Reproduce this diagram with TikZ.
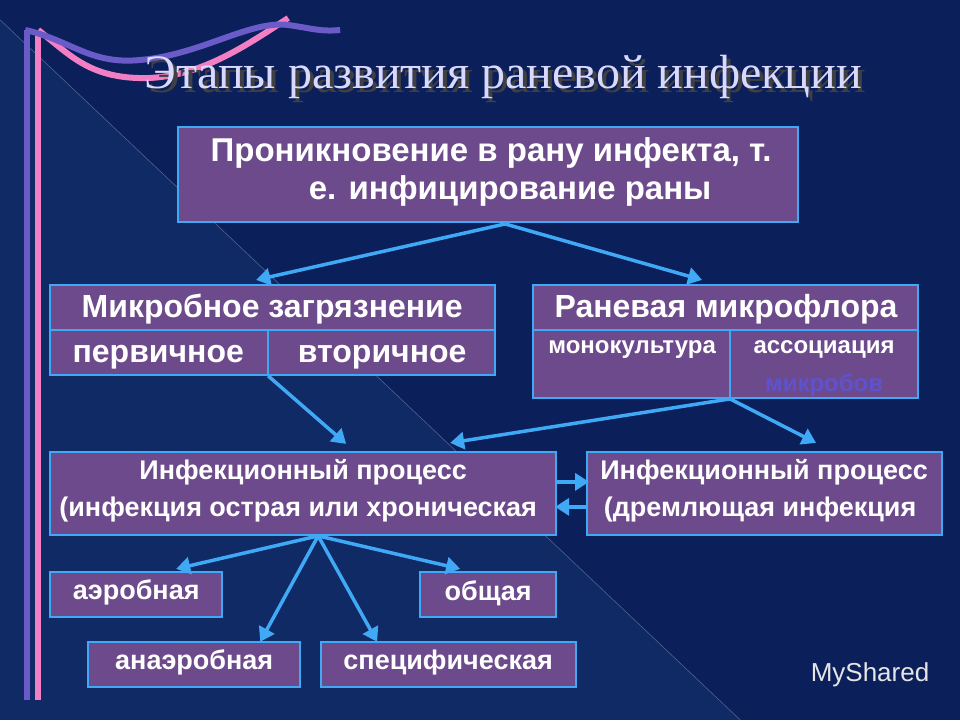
\documentclass[tikz,border=0pt]{standalone}
\usepackage{fontspec}
\setmainfont{Liberation Serif}
\setsansfont{Liberation Sans}
\usetikzlibrary{arrows.meta}
\definecolor{bg}{HTML}{0B1F5A}
\definecolor{bgl}{HTML}{102A66}
\definecolor{boxf}{HTML}{6C4A8C}
\definecolor{edge}{HTML}{3FA9F5}
\definecolor{pinkr}{HTML}{F27FC3}
\definecolor{purr}{HTML}{6A5BC8}
\begin{document}
\begin{tikzpicture}[x=1pt,y=-1pt,
  bx/.style={draw=edge,line width=2.2pt,fill=boxf},
  tx/.style={text=white,font=\sffamily\bfseries},
  arr/.style={draw=edge,line width=3.5pt,-{Triangle[length=14pt,width=17pt]}}]
\fill[bg] (0,0) rectangle (960,720);
\fill[bgl] (0,20) -- (740,720) -- (0,720) -- cycle;
\draw[white!30!bgl,line width=0.5pt] (0,20) -- (740,720);
% flag
\draw[purr,line width=6pt] (27,30) -- (27,700);
\draw[pinkr,line width=6pt] (38,30) -- (38,700);
\draw[pinkr,line width=6pt] (38,30) .. controls (70,55) and (90,80) .. (150,78) .. controls (200,75) and (240,50) .. (288,18);
\draw[purr,line width=6pt] (25,30) .. controls (70,40) and (90,65) .. (140,60) .. controls (200,55) and (250,20) .. (288,25) .. controls (310,28) and (320,32) .. (340,30);
% title
\node[text=black!75,font=\fontsize{48}{52}\selectfont] (tsh) at (507,81) {Этапы развития раневой инфекции};
\node[text=white!85!blue,font=\fontsize{48}{52}\selectfont] (title) at (503,77) {Этапы развития раневой инфекции};
% boxes
\draw[bx] (178,127) rectangle (798,222);
\node[tx,font=\sffamily\bfseries\fontsize{33}{36}\selectfont] (t1) at (491,153) {Проникновение в рану инфекта, т.};
\node[tx,font=\sffamily\bfseries\fontsize{33}{36}\selectfont] (t2) at (510,191) {е. инфицирование раны};
\coordinate (top) at (505,224);
\draw[bx] (50,285) rectangle (495,330);
\draw[bx] (50,330) rectangle (268,375);
\draw[bx] (268,330) rectangle (495,375);
\node[tx,font=\sffamily\bfseries\fontsize{32}{36}\selectfont] (mz) at (272,309) {Микробное загрязнение};
\node[tx,font=\sffamily\bfseries\fontsize{32}{36}\selectfont] (pe) at (158,357) {первичное};
\node[tx,font=\sffamily\bfseries\fontsize{32}{36}\selectfont] (vt) at (382,357) {вторичное};
\draw[bx] (533,285) rectangle (918,330);
\draw[bx] (533,330) rectangle (730,398);
\draw[bx] (730,330) rectangle (918,398);
\node[tx,font=\sffamily\bfseries\fontsize{32}{36}\selectfont] (rm) at (726,309) {Раневая микрофлора};
\node[tx,font=\sffamily\bfseries\fontsize{24}{28}\selectfont] (mk) at (632,350) {монокультура};
\node[tx,font=\sffamily\bfseries\fontsize{24}{28}\selectfont] (as) at (824,350) {ассоциация};
\node[text=purr!90!blue,font=\sffamily\bfseries\fontsize{24}{28}\selectfont] (mb) at (824,385) {микробов};
\draw[bx] (50,452) rectangle (556,535);
\node[tx,font=\sffamily\bfseries\fontsize{27}{30}\selectfont] (i1a) at (303,472) {Инфекционный процесс};
\node[tx,font=\sffamily\bfseries\fontsize{27}{30}\selectfont] (i1b) at (298,510) {(инфекция острая или хроническая};
\draw[bx] (587,452) rectangle (942,535);
\node[tx,font=\sffamily\bfseries\fontsize{27}{30}\selectfont] (i2a) at (764,472) {Инфекционный процесс};
\node[tx,font=\sffamily\bfseries\fontsize{27}{30}\selectfont] (i2b) at (760,510) {(дремлющая инфекция};
\draw[bx] (50,572) rectangle (222,617);
\node[tx,font=\sffamily\bfseries\fontsize{27}{30}\selectfont] (ae) at (136,593) {аэробная};
\draw[bx] (420,572) rectangle (556,617);
\node[tx,font=\sffamily\bfseries\fontsize{27}{30}\selectfont] (ob) at (488,593) {общая};
\draw[bx] (88,642) rectangle (300,687);
\node[tx,font=\sffamily\bfseries\fontsize{27}{30}\selectfont] (an) at (194,663) {анаэробная};
\draw[bx] (321,642) rectangle (576,687);
\node[tx,font=\sffamily\bfseries\fontsize{27}{30}\selectfont] (sp) at (448,663) {специфическая};
% arrows
\coordinate (a1) at (256,280); \coordinate (a2) at (702,280);
\draw[arr] (top) -- (a1);
\draw[arr] (top) -- (a2);
\coordinate (m1) at (268,376); \coordinate (m2) at (346,444);
\draw[arr] (m1) -- (m2);
\coordinate (r1) at (730,399); \coordinate (r2) at (450,443); \coordinate (r3) at (816,443);
\draw[arr] (r1) -- (r2);
\draw[arr] (r1) -- (r3);
\coordinate (l1) at (557,482); \coordinate (l2) at (589,482);
\coordinate (l3) at (587,507); \coordinate (l4) at (555,507);
\draw[arr] (l1) -- (l2);
\draw[arr] (l3) -- (l4);
\coordinate (p) at (318,536);
\coordinate (q1) at (176,569); \coordinate (q2) at (460,569);
\coordinate (q3) at (260,642); \coordinate (q4) at (377,642);
\draw[arr] (p) -- (q1);
\draw[arr] (p) -- (q2);
\draw[arr] (p) -- (q3);
\draw[arr] (p) -- (q4);
\node[text=white!80!gray,font=\sffamily\fontsize{26}{30}\selectfont] (ms) at (870,675) {MyShared};
\end{tikzpicture}
\end{document}
